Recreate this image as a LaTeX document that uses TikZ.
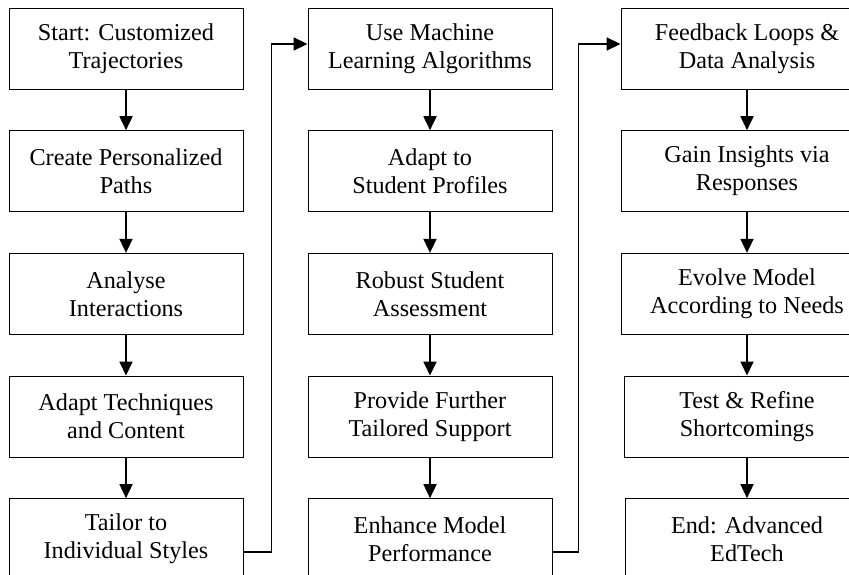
\documentclass[tikz,border=0pt]{standalone}
\usepackage{fontspec}
\setmainfont{Liberation Serif}
\usepackage{tikz}
\usetikzlibrary{positioning,
				arrows.meta,
				calc}

\tikzset{stepbox/.style={draw, line width=0.9pt, align=center, minimum height=81pt, inner sep=2pt,
				font=\fontsize{24.2}{28}\selectfont},
		 flow/.style={line width=1.8pt, -{Triangle[length=14pt,width=13pt]}}}

\begin{document}
\begin{tikzpicture}[x=1pt, y=1pt, node distance=40.75pt]
	   \useasboundingbox (0,0) rectangle (849,-575);
	   \node[stepbox, minimum width=234pt] (start) at (126,-48.5) {Start: Customized\\Trajectories};
	   \node[stepbox, minimum width=234pt, below=of start] (paths) {Create Personalized\\Paths};
	   \node[stepbox, minimum width=234pt, below=of paths] (interact) {Analyse\\Interactions};
	   \node[stepbox, minimum width=234pt, below=of interact] (techniques) {Adapt Techniques\\and Content};
	   \node[stepbox, minimum width=234pt, below=of techniques] (tailor) {Tailor to\\Individual Styles};
	   \node[stepbox, minimum width=244pt] (machine) at (430,-48.5) {Use Machine\\Learning Algorithms};
	   \node[stepbox, minimum width=244pt, below=of machine] (profiles) {Adapt to\\Student Profiles};
	   \node[stepbox, minimum width=244pt, below=of profiles] (assess) {Robust Student\\Assessment};
	   \node[stepbox, minimum width=244pt, below=of assess] (support) {Provide Further\\Tailored Support};
	   \node[stepbox, minimum width=244pt, below=of support] (enhance) {Enhance Model\\Performance};
	   \node[stepbox, minimum width=252pt] (feedback) at (747,-48.5) {Feedback Loops \&\\Data Analysis};
	   \node[stepbox, minimum width=252pt, below=of feedback] (insights) {Gain Insights via\\Responses};
	   \node[stepbox, minimum width=252pt, below=of insights] (evolve) {Evolve Model\\According to Needs};
	   \node[stepbox, minimum width=246pt, below=of evolve] (refine) {Test \& Refine\\Shortcomings};
	   \node[stepbox, minimum width=244pt, below=of refine] (finish) {End: Advanced\\EdTech};
	   \foreach \a/\b in {start/paths, paths/interact, interact/techniques, techniques/tailor,
				machine/profiles, profiles/assess, assess/support, support/enhance,
				feedback/insights, insights/evolve, evolve/refine, refine/finish}
			\draw[flow] (\a) -- (\b);
	   \draw[flow] ([yshift=-12.5pt]tailor.east) -- ++(28,0) |- ([yshift=4.5pt]machine.west);
	   \draw[flow] ([yshift=-12.5pt]enhance.east) -- ++(26,0) |- ([yshift=4.5pt]feedback.west);
	\end{tikzpicture}
\end{document}
